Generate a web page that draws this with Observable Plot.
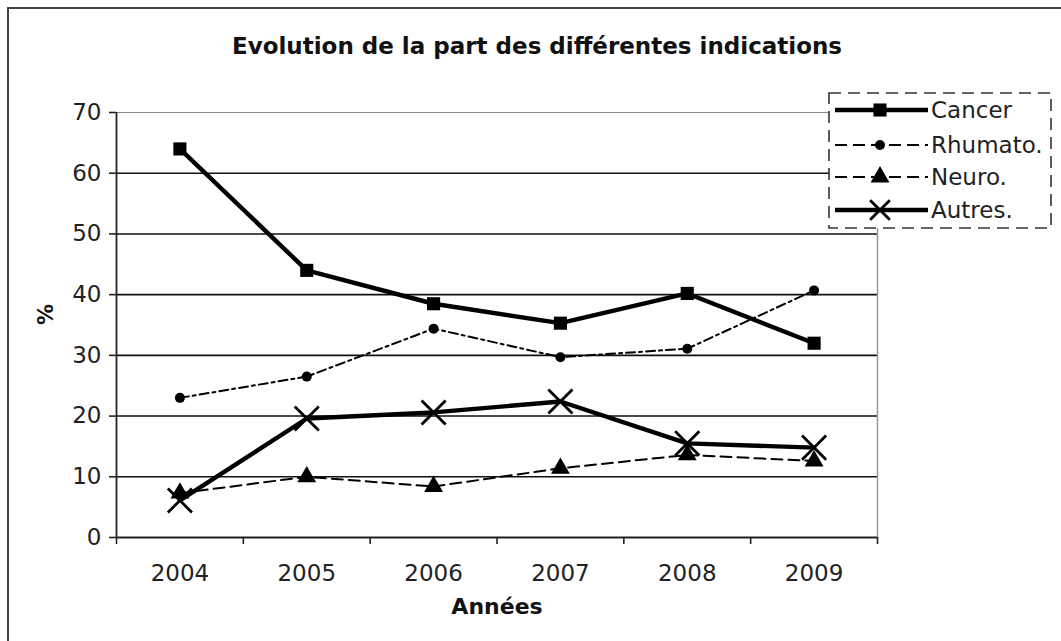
<!DOCTYPE html>
<html>
<head>
<meta charset="utf-8">
<script src="https://cdn.jsdelivr.net/npm/d3@7"></script>
<script src="https://cdn.jsdelivr.net/npm/@observablehq/plot@0.6"></script>
<style>
  html, body { margin: 0; padding: 0; background: #fff; }
  #wrap { position: relative; width: 1061px; height: 641px; overflow: hidden; font-family: "DejaVu Sans", Verdana, sans-serif; }
  #frameTop { position: absolute; left: 7px; top: 7px; width: 1060px; height: 0; border-top: 2px solid #444; }
  #frameLeft { position: absolute; left: 7px; top: 7px; width: 0; height: 640px; border-left: 2px solid #444; }
  #chart { position: absolute; left: 0; top: 0; }
  #legend { position: absolute; left: 0; top: 0; }
</style>
</head>
<body>
<div id="wrap">
  <div id="chart"></div>
  <div id="frameTop"></div>
  <div id="frameLeft"></div>
  <div id="legend"></div>
</div>
<script>
const title = "Evolution de la part des différentes indications";
const xLabel = "Années";
const yLabel = "%";
const years = [2004, 2005, 2006, 2007, 2008, 2009];
const yTicks = [0, 10, 20, 30, 40, 50, 60, 70];
const seriesNames = ["Cancer", "Rhumato.", "Neuro.", "Autres."];
const cancer = [64, 44, 38.5, 35.3, 40.2, 32];
const rhumato = [23, 26.5, 34.4, 29.7, 31.1, 40.7];
const neuro = [7.3, 10, 8.4, 11.4, 13.6, 12.6];
const autres = [6.1, 19.6, 20.6, 22.4, 15.5, 14.8];

const values = [cancer, rhumato, neuro, autres];
const data = [];
seriesNames.forEach((s, i) => years.forEach((y, j) => data.push({series: s, year: y, value: values[i][j]})));
const bySeries = s => data.filter(d => d.series === s);

const boundaries = d3.range(years.length + 1).map(i => years[0] - 0.5 + i);

const styles = {
  "Cancer":   {sw: 4.4, dash: null, legendDash: null, symbol: "square", r: 7.4},
  "Rhumato.": {sw: 2, dash: "9,4,3,4", legendDash: "12,6", symbol: "circle", r: 5},
  "Neuro.":   {sw: 2, dash: "11,6", legendDash: "12,6", symbol: "triangle", r: 7},
  "Autres.":  {sw: 4.4, dash: null, legendDash: null, symbol: "times", r: 11}
};

const font = "\"DejaVu Sans\", Verdana, sans-serif";

const marks = [
  Plot.ruleY(yTicks.filter(v => v > 0 && v < 70), {stroke: "#111", strokeWidth: 1.6}),
  Plot.ruleY([70], {stroke: "#888", strokeWidth: 1.2}),
  Plot.ruleX([boundaries[boundaries.length - 1]], {stroke: "#999", strokeWidth: 1.5}),
  Plot.ruleX([boundaries[0]], {stroke: "#222", strokeWidth: 1.8}),
  Plot.ruleY([0], {stroke: "#222", strokeWidth: 1.8}),
  Plot.axisY(yTicks, {tickSize: 7, tickPadding: 8, fontSize: 23, stroke: "#222", fill: "#222", strokeWidth: 1.6, label: null}),
  Plot.axisX(boundaries, {tickSize: 7, tickFormat: () => "", stroke: "#222", strokeWidth: 1.6, label: null}),
  Plot.axisX(years, {tickSize: 0, tickPadding: 27, fontSize: 23, fill: "#222", tickFormat: d => String(d), label: null}),
];

for (const s of seriesNames) {
  const st = styles[s];
  marks.push(Plot.line(bySeries(s), {x: "year", y: "value", stroke: "#000", strokeWidth: st.sw, strokeDasharray: st.dash || undefined}));
}
for (const s of seriesNames) {
  const st = styles[s];
  if (st.symbol === "times") {
    marks.push(Plot.dot(bySeries(s), {x: "year", y: "value", symbol: "times", r: st.r, stroke: "#000", strokeWidth: 2.8, fill: "none"}));
  } else {
    marks.push(Plot.dot(bySeries(s), {x: "year", y: "value", symbol: st.symbol, r: st.r, fill: "#000", stroke: "none"}));
  }
}

marks.push(Plot.text([title], {frameAnchor: "top", dx: 40, dy: -75, fontSize: 23, fontWeight: "bold", fill: "#111", text: d => d}));
marks.push(Plot.text([xLabel], {frameAnchor: "bottom", dy: 76, fontSize: 22, fontWeight: "bold", fill: "#111", text: d => d}));
marks.push(Plot.text([yLabel], {frameAnchor: "left", dx: -70, fontSize: 21, fontWeight: "bold", fill: "#111", rotate: -90, text: d => d}));

const chart = Plot.plot({
  width: 1061,
  height: 641,
  marginLeft: 116,
  marginRight: 184,
  marginTop: 112,
  marginBottom: 104,
  style: {fontFamily: font, background: "transparent", overflow: "visible"},
  x: {type: "linear", domain: [boundaries[0], boundaries[boundaries.length - 1]], axis: null},
  y: {type: "linear", domain: [0, 70], axis: null},
  marks
});
document.getElementById("chart").appendChild(chart);

// legend
const L = d3.select("#legend").append("svg").attr("width", 1061).attr("height", 641)
  .style("font-family", font);
L.append("rect").attr("x", 829).attr("y", 93).attr("width", 222).attr("height", 135)
  .attr("fill", "#fff").attr("stroke", "#333").attr("stroke-width", 1.6).attr("stroke-dasharray", "12,7");
const rowY = [110, 145, 177, 210];
const sym = {square: d3.symbolSquare, circle: d3.symbolCircle, triangle: d3.symbolTriangle, times: d3.symbolTimes};
seriesNames.forEach((s, i) => {
  const st = styles[s];
  const y = rowY[i];
  L.append("line").attr("x1", 835).attr("x2", 928).attr("y1", y).attr("y2", y)
    .attr("stroke", "#000").attr("stroke-width", st.sw)
    .attr("stroke-dasharray", st.legendDash);
  const r = st.symbol === "times" ? 9 : st.r;
  const p = L.append("path").attr("transform", `translate(880,${y})`)
    .attr("d", d3.symbol(sym[st.symbol], Math.PI * r * r)());
  if (st.symbol === "times") p.attr("fill", "none").attr("stroke", "#000").attr("stroke-width", 2.8);
  else p.attr("fill", "#000");
  L.append("text").attr("x", 931).attr("y", y).attr("dy", "0.36em").attr("font-size", 23)
    .attr("fill", "#222").text(s);
});
</script>
</body>
</html>
